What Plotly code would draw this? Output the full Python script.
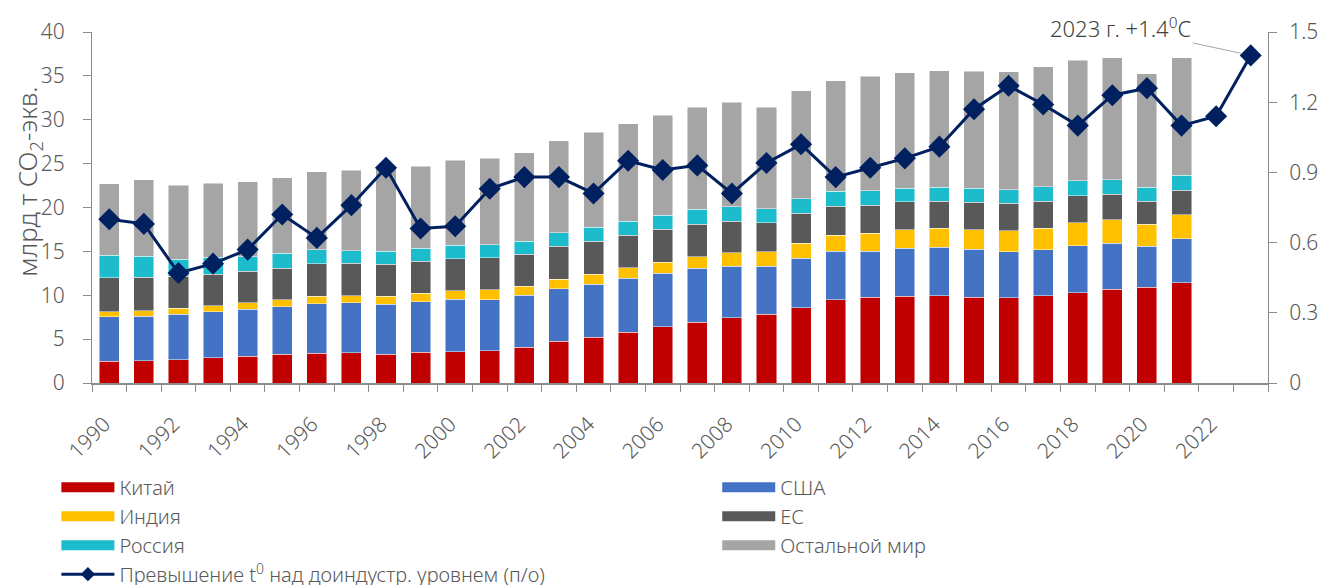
import plotly.graph_objects as go

years = list(range(1990, 2024))
bar_years = list(range(1990, 2022))

china = [2.47, 2.55, 2.66, 2.85, 3.04, 3.27, 3.38, 3.46, 3.30, 3.49, 3.57, 3.68, 4.06, 4.75, 5.20, 5.81,
         6.42, 6.91, 7.45, 7.83, 8.59, 9.46, 9.76, 9.88, 9.95, 9.80, 9.69, 9.95, 10.26, 10.71, 10.94, 11.40]
usa = [5.09, 5.05, 5.17, 5.28, 5.36, 5.43, 5.66, 5.66, 5.70, 5.78, 6.00, 5.82, 5.93, 6.00, 6.08, 6.12,
       6.08, 6.16, 5.88, 5.47, 5.61, 5.54, 5.28, 5.47, 5.51, 5.43, 5.24, 5.21, 5.39, 5.21, 4.63, 5.05]
india = [0.57, 0.64, 0.68, 0.68, 0.72, 0.80, 0.84, 0.83, 0.91, 0.95, 0.95, 1.10, 1.03, 1.10, 1.10, 1.21,
         1.25, 1.33, 1.52, 1.63, 1.75, 1.83, 2.02, 2.09, 2.17, 2.24, 2.43, 2.47, 2.62, 2.66, 2.51, 2.73]
eu = [3.84, 3.80, 3.65, 3.57, 3.61, 3.60, 3.72, 3.69, 3.61, 3.65, 3.65, 3.65, 3.64, 3.72, 3.76, 3.69,
      3.76, 3.72, 3.57, 3.34, 3.39, 3.30, 3.22, 3.19, 3.11, 3.12, 3.11, 3.07, 3.08, 2.92, 2.62, 2.78]
russia = [2.58, 2.39, 1.97, 1.94, 1.67, 1.68, 1.59, 1.44, 1.48, 1.48, 1.52, 1.48, 1.48, 1.56, 1.60, 1.59,
          1.60, 1.67, 1.68, 1.56, 1.66, 1.71, 1.62, 1.57, 1.56, 1.59, 1.58, 1.68, 1.68, 1.67, 1.59, 1.70]
rest = [8.15, 8.74, 8.43, 8.47, 8.54, 8.62, 8.89, 9.19, 9.40, 9.34, 9.69, 9.91, 10.10, 10.47, 10.83, 11.13,
        11.43, 11.66, 11.92, 11.62, 12.30, 12.61, 13.08, 13.13, 13.29, 13.37, 13.43, 13.67, 13.77, 13.90, 12.96, 13.41]

temp = [0.70, 0.68, 0.47, 0.51, 0.57, 0.72, 0.62, 0.76, 0.92, 0.66, 0.67, 0.83, 0.88, 0.88, 0.81, 0.95,
        0.91, 0.93, 0.81, 0.94, 1.02, 0.88, 0.92, 0.96, 1.01, 1.17, 1.27, 1.19, 1.10, 1.23, 1.26, 1.10,
        1.14, 1.40]

tick_years = list(range(1990, 2023, 2))
tick_text = [str(y) for y in tick_years]

names = ["Китай", "США", "Индия", "ЕС", "Россия", "Остальной мир"]
colors = ["#C00000", "#4472C4", "#FFC000", "#595959", "#1CBCCC", "#A5A5A5"]
values = [china, usa, india, eu, russia, rest]
line_name = "Превышение t<sup>0</sup> над доиндустр. уровнем (п/о)"
line_color = "#002060"
font_family = "'Noto Sans', Roboto, sans-serif"
text_color = "#595959"
axis_color = "#8C8C8C"

fig = go.Figure()

for name, vals, col in zip(names, values, colors):
    fig.add_trace(go.Bar(
        x=bar_years, y=vals, name=name, width=0.58,
        marker=dict(color=col, line=dict(color="rgba(255,255,255,0.6)", width=0.8)),
        showlegend=False,
    ))

fig.add_trace(go.Scatter(
    x=years, y=temp, yaxis="y2", mode="lines+markers", name=line_name,
    line=dict(color=line_color, width=3),
    marker=dict(symbol="diamond", size=17, color=line_color),
    showlegend=False, cliponaxis=False,
))

# legend entries (wide swatches)
for name in ["Китай", "Индия", "Россия"]:
    col = colors[names.index(name)]
    fig.add_trace(go.Scatter(x=[None], y=[None], mode="lines", name=name,
                             line=dict(color=col, width=10), legend="legend"))
fig.add_trace(go.Scatter(x=[None], y=[None], mode="lines+markers", name=line_name,
                         line=dict(color=line_color, width=3),
                         marker=dict(symbol="diamond", size=11, color=line_color),
                         legend="legend"))
for name in ["США", "ЕС", "Остальной мир"]:
    col = colors[names.index(name)]
    fig.add_trace(go.Scatter(x=[None], y=[None], mode="lines", name=name,
                             line=dict(color=col, width=10), legend="legend2"))

fig.add_annotation(
    x=years[-1], y=temp[-1], xref="x", yref="y2",
    text="2023 г. +1.4<sup>0</sup>C", showarrow=True, arrowhead=0,
    arrowcolor="#A6A6A6", arrowwidth=1, ax=-130, ay=-28, standoff=9,
    font=dict(size=22, color="#404040", family=font_family, weight=300),
)

fig.add_annotation(
    xref="paper", yref="paper", x=-0.054, y=0.575, xanchor="center", yanchor="middle",
    text="млрд т CO<sub>2</sub>-экв.", textangle=-90, showarrow=False,
    font=dict(size=26, color=text_color, family=font_family, weight=300),
)

legend_common = dict(
    orientation="v", xanchor="left", yanchor="top", xref="container", yref="container",
    font=dict(size=20, color=text_color, family=font_family, weight=300),
    bgcolor="rgba(0,0,0,0)", itemwidth=53, tracegroupgap=0, traceorder="normal",
)

tick_font = dict(size=21, color=text_color, family=font_family, weight=300)

fig.update_layout(
    width=1327, height=585,
    margin=dict(l=92, r=59, t=32, b=202, autoexpand=False),
    paper_bgcolor="white", plot_bgcolor="white",
    barmode="stack", bargap=0.42,
    font=dict(family=font_family, color=text_color, size=20),
    legend=dict(x=0.0425, y=0.2005, **legend_common),
    legend2=dict(x=0.5405, y=0.2005, **legend_common),
    xaxis=dict(
        range=[1989.5, 2023.5], tickmode="array", tickvals=tick_years, ticktext=tick_text,
        tickangle=-45, ticks="", showline=True, linecolor=axis_color, linewidth=1.5,
        showgrid=False, zeroline=False, automargin=False,
        ticklabelstandoff=19, ticklabelshift=-5,
        tickfont=tick_font,
        minor=dict(tickmode="array", tickvals=[y - 0.5 for y in years] + [years[-1] + 0.5],
                   ticks="outside", ticklen=7, tickcolor=axis_color, tickwidth=1),
    ),
    yaxis=dict(
        range=[0, 40], dtick=5, ticks="outside", ticklen=8, tickcolor=axis_color,
        showline=True, linecolor=axis_color, showgrid=False, zeroline=False, automargin=False,
        ticklabelstandoff=14, tickfont=tick_font,
    ),
    yaxis2=dict(
        range=[0, 1.5], dtick=0.3, overlaying="y", side="right", ticks="outside", ticklen=8,
        tickcolor=axis_color, showline=True, linecolor=axis_color, showgrid=False, zeroline=False,
        automargin=False, ticklabelstandoff=8, tickfont=tick_font,
    ),
)

fig.write_html("out.html", config={"displayModeBar": False},
               post_script="document.body.style.margin='0';")
